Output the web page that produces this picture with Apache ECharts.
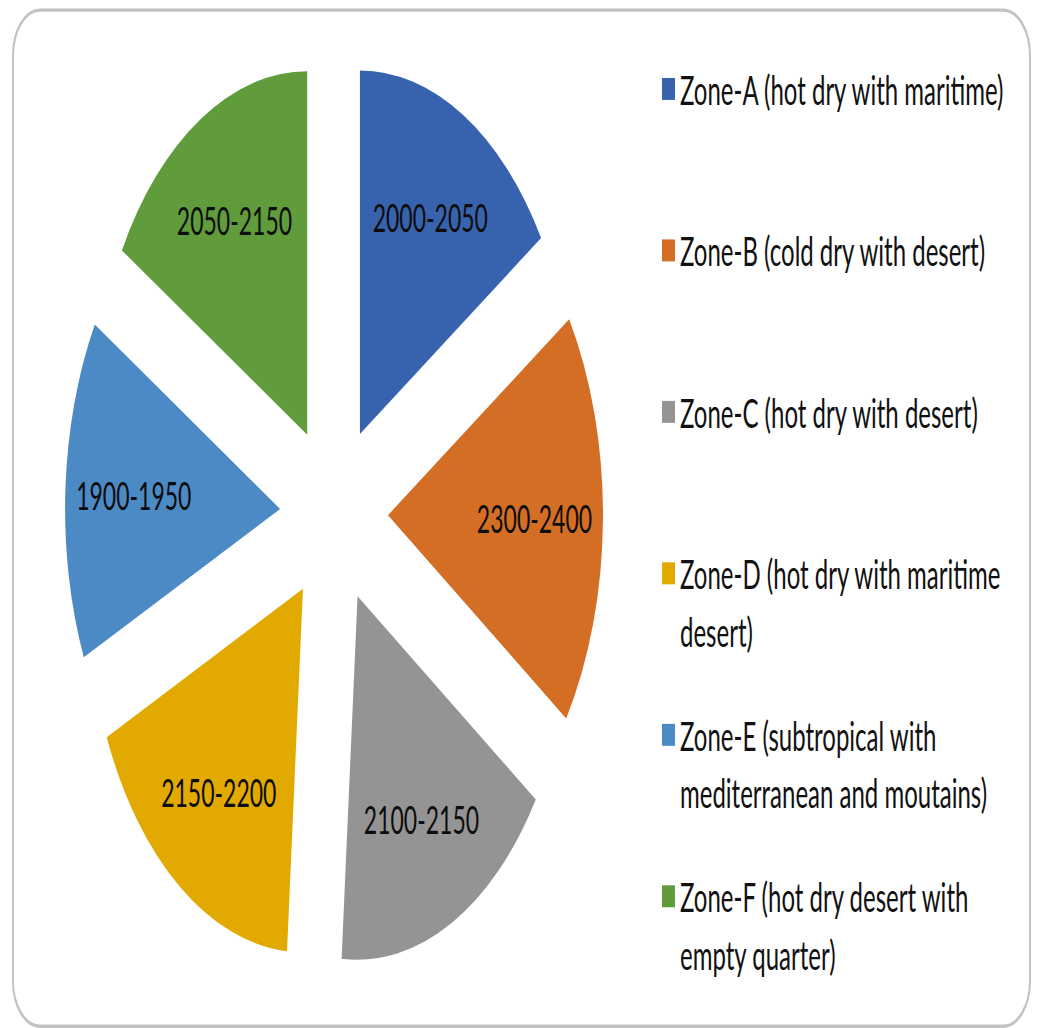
<!DOCTYPE html>
<html>
<head>
<meta charset="utf-8">
<title>Zones</title>
<script src="https://cdn.jsdelivr.net/npm/echarts@6/dist/echarts.min.js"></script>
<style>
  html, body { margin: 0; padding: 0; background: #ffffff; }
  #frame { width: 1040px; height: 1028px; overflow: hidden; position: relative; }
  /* The chart is laid out at a flatter height and stretched vertically,
     giving the tall, elliptical pie and tall lettering. */
  #chart {
    width: 1040px; height: 608px;
    transform: scale(1, 1.6908);
    transform-origin: 0 0;
  }
</style>
</head>
<body>
<div id="frame"><div id="chart"></div></div>
<script>
// Zone names (legend) and the range label shown on each slice
const zones = [
  'Zone-A (hot dry with maritime)',
  'Zone-B (cold dry with desert)',
  'Zone-C (hot dry with desert)',
  'Zone-D (hot dry with maritime desert)',
  'Zone-E (subtropical with mediterranean and moutains)',
  'Zone-F (hot dry desert with empty quarter)'
];
const rangeLabels = ['2000-2050', '2300-2400', '2100-2150', '2150-2200', '1900-1950', '2050-2150'];
// Slice size: middle of each range
const values = [2025, 2350, 2125, 2175, 1925, 2100];
// Legend text as it wraps on screen
const legendLines = [
  ['Zone-A (hot dry with maritime)'],
  ['Zone-B (cold dry with desert)'],
  ['Zone-C (hot dry with desert)'],
  ['Zone-D (hot dry with maritime', 'desert)'],
  ['Zone-E (subtropical with', 'mediterranean and moutains)'],
  ['Zone-F (hot dry desert with', 'empty quarter)']
];
const colors = ['#3763ae', '#d46e25', '#949494', '#e2aa00', '#4c8ac5', '#609b3c'];

const FONT = 'Lato, "Open Sans", "Noto Sans", sans-serif';
const CENTER = [334, 304];
const RADIUS = 215;
const EXPLODE = 54;

const pieData = zones.map((name, i) => ({
  name: name,
  value: values[i],
  selected: true,
  itemStyle: { color: colors[i] }
}));

const labelData = zones.map((name, i) => ({
  name: name,
  value: values[i],
  selected: true,
  label: { formatter: rangeLabels[i] }
}));

// Each legend entry is three lines tall so the square sits beside the first line
function legendText(name) {
  const lines = legendLines[zones.indexOf(name)];
  return '\n' + lines.join('\n') + (lines.length === 1 ? '\n' : '');
}

const chart = echarts.init(document.getElementById('chart'), null, { renderer: 'svg' });
chart.setOption({
  animation: false,
  color: colors,
  graphic: [{
    type: 'rect',
    z: -10,
    silent: true,
    shape: { x: 13, y: 6, width: 1017, height: 601, r: 27 },
    style: { fill: 'none', stroke: '#c2c2c2', lineWidth: 2 }
  }],
  legend: {
    orient: 'vertical',
    left: 662,
    top: 1.6,
    padding: 0,
    itemGap: -6.5,
    itemWidth: 13,
    itemHeight: 13,
    icon: 'rect',
    selectedMode: false,
    data: zones,
    formatter: legendText,
    textStyle: {
      fontFamily: FONT,
      fontSize: 24,
      lineHeight: 34,
      color: '#111111',
      padding: [0, 0, 0, 0]
    }
  },
  series: [
    {
      type: 'pie',
      center: CENTER,
      radius: [0, RADIUS],
      startAngle: 90,
      clockwise: true,
      selectedMode: 'multiple',
      selectedOffset: EXPLODE,
      avoidLabelOverlap: false,
      label: { show: false },
      labelLine: { show: false },
      itemStyle: { borderWidth: 0, borderRadius: 0 },
      emphasis: { disabled: true },
      data: pieData
    },
    {
      // carries the range labels further out along each slice
      type: 'pie',
      center: CENTER,
      radius: [72, RADIUS],
      startAngle: 90,
      clockwise: true,
      selectedMode: 'multiple',
      selectedOffset: EXPLODE,
      silent: true,
      avoidLabelOverlap: false,
      itemStyle: { color: 'rgba(0,0,0,0)', borderWidth: 0 },
      label: {
        show: true,
        position: 'inside',
        fontFamily: FONT,
        fontSize: 23,
        color: '#0d0d0d'
      },
      labelLine: { show: false },
      emphasis: { disabled: true },
      data: labelData
    }
  ]
});
</script>
</body>
</html>
